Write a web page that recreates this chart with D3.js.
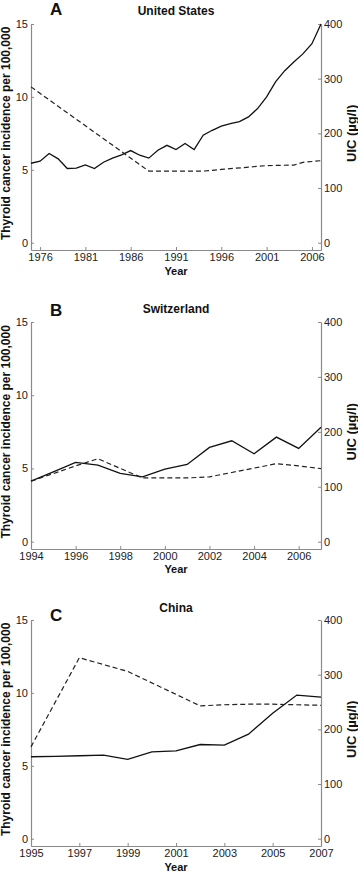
<!DOCTYPE html>
<html>
<head>
<meta charset="utf-8">
<script src="https://cdn.jsdelivr.net/npm/d3@7"></script>
<style>
  body { margin: 0; background: #fff; }
  svg { font-family: "Liberation Sans", Arial, sans-serif; }
  .axis path, .axis line { stroke: #8a8a8a; }
  .axis text { fill: #222; font-size: 11px; }
</style>
</head>
<body>
<div id="chart"></div>
<script>
// panel A - United States
const usYears = [1975, 1976, 1977, 1978, 1979, 1980, 1981, 1982, 1983, 1984, 1985, 1986, 1987, 1988, 1989, 1990,
  1991, 1992, 1993, 1994, 1995, 1996, 1997, 1998, 1999, 2000, 2001, 2002, 2003, 2004, 2005, 2006, 2007];
const usIncidence = [5.45, 5.59, 6.12, 5.75, 5.09, 5.11, 5.34, 5.09, 5.52, 5.8, 6.03, 6.32, 6.0, 5.8, 6.34, 6.68,
  6.39, 6.8, 6.39, 7.37, 7.71, 7.99, 8.17, 8.31, 8.63, 9.2, 10.0, 11.05, 11.8, 12.4, 12.95, 13.65, 15.0];
const usUicYears = [1975, 1988, 1994, 1996, 2001, 2004, 2005, 2007];
const usUic = [285, 131, 131, 134, 141, 142, 147, 150];

// panel B - Switzerland
const chYears = [1994, 1995, 1996, 1997, 1998, 1999, 2000, 2001, 2002, 2003, 2004, 2005, 2006, 2007];
const chIncidence = [4.13, 4.77, 5.41, 5.23, 4.66, 4.43, 4.95, 5.27, 6.44, 6.89, 6.0, 7.14, 6.37, 7.81];
const chUicYears = [1994, 1996, 1997, 1999, 2000, 2001, 2002, 2003, 2004, 2005, 2006, 2007];
const chUic = [110, 138, 151, 116, 116, 116, 118, 126, 134, 142, 138, 133];

// panel C - China
const cnYears = [1995, 1996, 1997, 1998, 1999, 2000, 2001, 2002, 2003, 2004, 2005, 2006, 2007];
const cnIncidence = [5.62, 5.65, 5.69, 5.73, 5.44, 5.96, 6.03, 6.46, 6.42, 7.17, 8.6, 9.85, 9.71];
const cnUicYears = [1995, 1997, 1999, 2002, 2003, 2004, 2005, 2006, 2007];
const cnUic = [168, 331, 306, 243, 245, 246, 246, 245, 244];

const usTicks = [1976, 1981, 1986, 1991, 1996, 2001, 2006];
const chTicks = [1994, 1996, 1998, 2000, 2002, 2004, 2006];
const cnTicks = [1995, 1997, 1999, 2001, 2003, 2005, 2007];

const incTicks = [0, 5, 10, 15];
const uicTicks = [0, 100, 200, 300, 400];

const width = 358, height = 873;
const plotLeft = 31, plotRight = 321;

const panels = [
  {letter: "A", title: "United States", years: usYears, inc: usIncidence, uicYears: usUicYears, uic: usUic,
   domain: [1975, 2007], ticks: usTicks, top: 24, bottom: 250, letterY: 15, titleY: 15, yearY: 275},
  {letter: "B", title: "Switzerland", years: chYears, inc: chIncidence, uicYears: chUicYears, uic: chUic,
   domain: [1994, 2007], ticks: chTicks, top: 322, bottom: 549, letterY: 316, titleY: 313, yearY: 573},
  {letter: "C", title: "China", years: cnYears, inc: cnIncidence, uicYears: cnUicYears, uic: cnUic,
   domain: [1995, 2007], ticks: cnTicks, top: 620, bottom: 846, letterY: 621, titleY: 612, yearY: 870.5}
];

const svg = d3.select("#chart").append("svg")
    .attr("width", width)
    .attr("height", height);

panels.forEach(function(p) {
  const g = svg.append("g");

  let x = d3.scaleLinear().domain(p.domain).range([plotLeft, plotRight]);
  let yInc = d3.scaleLinear().domain([-0.5, 15]).range([p.bottom, p.top]);
  let yUic = d3.scaleLinear().domain([-400 / 30, 400]).range([p.bottom, p.top]);

  g.append("g")
      .attr("class", "axis")
      .attr("transform", "translate(0," + p.bottom + ")")
      .call(d3.axisBottom(x).tickValues(p.ticks).tickFormat(d3.format("d"))
          .tickSizeInner(-3).tickSizeOuter(0).tickPadding(3.5));

  g.append("g")
      .attr("class", "axis")
      .attr("transform", "translate(" + plotLeft + ",0)")
      .call(d3.axisLeft(yInc).tickValues(incTicks)
          .tickSizeInner(-3).tickSizeOuter(0).tickPadding(3));

  g.append("g")
      .attr("class", "axis")
      .attr("transform", "translate(" + plotRight + ",0)")
      .call(d3.axisRight(yUic).tickValues(uicTicks)
          .tickSizeInner(-3).tickSizeOuter(0).tickPadding(3));

  g.selectAll(".axis path").attr("stroke-width", 1.2);

  // incidence (solid)
  const incLine = d3.line()
      .x((d, i) => x(p.years[i]))
      .y(d => yInc(d));
  g.append("path")
      .datum(p.inc)
      .attr("fill", "none")
      .attr("stroke", "#111")
      .attr("stroke-width", 1.3)
      .attr("d", incLine);

  // UIC (dashed)
  const uicLine = d3.line()
      .x((d, i) => x(p.uicYears[i]))
      .y(d => yUic(d));
  g.append("path")
      .datum(p.uic)
      .attr("fill", "none")
      .attr("stroke", "#222")
      .attr("stroke-width", 1.2)
      .attr("stroke-dasharray", "5,3")
      .attr("d", uicLine);

  g.append("text")
      .attr("x", 50)
      .attr("y", p.letterY)
      .attr("font-size", 17)
      .attr("font-weight", "bold")
      .attr("fill", "#111")
      .text(p.letter);

  g.append("text")
      .attr("x", (plotLeft + plotRight) / 2)
      .attr("y", p.titleY)
      .attr("text-anchor", "middle")
      .attr("font-size", 12)
      .attr("font-weight", "bold")
      .attr("fill", "#111")
      .text(p.title);

  g.append("text")
      .attr("x", (plotLeft + plotRight) / 2)
      .attr("y", p.yearY)
      .attr("text-anchor", "middle")
      .attr("font-size", 11)
      .attr("font-weight", "bold")
      .attr("fill", "#111")
      .text("Year");

  const midY = (yInc(0) + yInc(15)) / 2;
  g.append("text")
      .attr("transform", "translate(10," + midY + ") rotate(-90)")
      .attr("text-anchor", "middle")
      .attr("font-size", 12)
      .attr("font-weight", "bold")
      .attr("fill", "#111")
      .text("Thyroid cancer incidence per 100,000");

  g.append("text")
      .attr("transform", "translate(356," + midY + ") rotate(-90)")
      .attr("text-anchor", "middle")
      .attr("font-size", 13)
      .attr("font-weight", "bold")
      .attr("fill", "#111")
      .text("UIC (µg/l)");
});
</script>
</body>
</html>
